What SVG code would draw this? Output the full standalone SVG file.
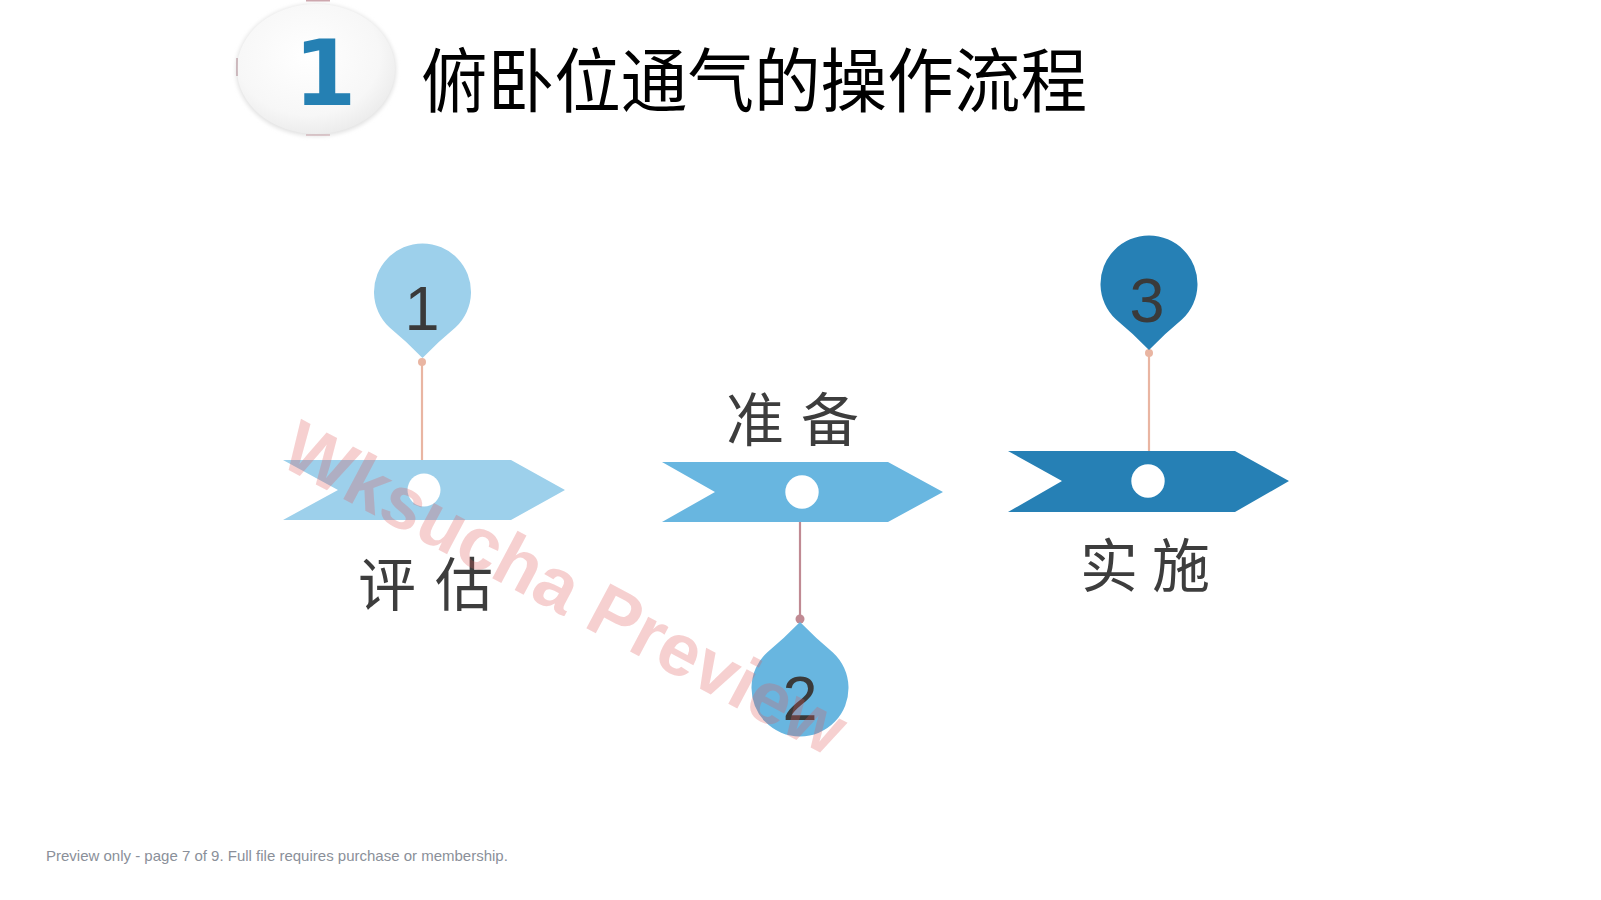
<svg xmlns="http://www.w3.org/2000/svg" width="1601" height="900" viewBox="0 0 1601 900">
  <style>
    .cjk { font-family: "Noto Sans CJK SC", "Noto Sans", sans-serif; }
    .label { font-family: "Noto Sans CJK SC", sans-serif; font-size: 58px; fill: #3d3d3d; }
    .num { font-family: "Liberation Sans", Arial, sans-serif; font-size: 63px; fill: #3a3a3a; text-anchor: middle; }
    .hole { fill: #ffffff; }
    .conn-a { stroke: #e9b5a2; stroke-width: 2.2; fill: none; }
    .conn-b { stroke: #c08a93; stroke-width: 2.2; fill: none; }
    .dot-a { fill: #e9b5a2; }
    .dot-b { fill: #c08a93; }
  </style>
  <defs>
    <path id="pin" d="M0,66 Q15.5,50 32.9,35.6 A48.5,48.5 0 1 0 -32.9,35.6 Q-15.5,50 0,66 Z"/>
    <radialGradient id="discGrad" cx="0.45" cy="0.4" r="0.65">
      <stop offset="0" stop-color="#ffffff"/>
      <stop offset="0.7" stop-color="#f7f7f7"/>
      <stop offset="1" stop-color="#e9e9e9"/>
    </radialGradient>
    <filter id="soft" x="-20%" y="-20%" width="140%" height="140%">
      <feGaussianBlur stdDeviation="2"/>
    </filter>
  </defs>

  <rect width="1601" height="900" fill="#ffffff"/>

  <!-- Title -->
  <g id="title">
    <ellipse cx="316" cy="70" rx="80" ry="66" fill="#e0e0e0" filter="url(#soft)"/>
    <ellipse cx="316" cy="69" rx="79" ry="65" fill="url(#discGrad)"/>
    <line x1="306" y1="0.8" x2="330" y2="0.8" stroke="#9a4a58" stroke-width="1.2" opacity="0.6"/>
    <line x1="306" y1="135" x2="330" y2="135" stroke="#9a4a58" stroke-width="1.2" opacity="0.4"/>
    <line x1="237" y1="58" x2="237" y2="76" stroke="#7a3a48" stroke-width="1.2" opacity="0.5"/>
    <text x="325" y="105" text-anchor="middle" font-family="'DejaVu Sans', Verdana, sans-serif" font-weight="bold" font-size="90" fill="#2580b3">1</text>
    <text x="421" y="107" class="cjk" font-size="70" fill="#000000" textLength="666" lengthAdjust="spacingAndGlyphs">俯卧位通气的操作流程</text>
  </g>

  <!-- Connectors -->
  <g id="connectors">
    <line class="conn-a" x1="422" y1="362" x2="422" y2="468"/>
    <circle class="dot-a" cx="422" cy="362" r="4"/>
    <circle class="dot-a" cx="422" cy="468" r="4.5"/>
    <line class="conn-b" x1="800" y1="510" x2="800" y2="619"/>
    <circle class="dot-b" cx="800" cy="510" r="4.5"/>
    <circle class="dot-b" cx="800" cy="619" r="4.5"/>
    <line class="conn-a" x1="1149" y1="353" x2="1149" y2="460"/>
    <circle class="dot-a" cx="1149" cy="353" r="4"/>
    <circle class="dot-a" cx="1149" cy="460" r="4.5"/>
  </g>

  <!-- Step 1 -->
  <g id="step1">
    <use href="#pin" transform="translate(422.5,292)" fill="#9dd0eb"/>
    <text class="num" x="422" y="330">1</text>
    <path d="M283,460 L511,460 L565,490 L511,520 L283,520 L338,490 Z" fill="#9dd0eb"/>
    <circle class="hole" cx="424" cy="490" r="16.5"/>
    <text class="label" x="358 435" y="606">评估</text>
  </g>

  <!-- Step 2 -->
  <g id="step2">
    <text class="label" x="726 801" y="441">准备</text>
    <path d="M662,462 L888,462 L943,492 L888,522 L662,522 L715,492 Z" fill="#68b6e0"/>
    <circle class="hole" cx="802" cy="492" r="16.7"/>
    <use href="#pin" transform="translate(800,688) scale(1,-1)" fill="#68b6e0"/>
    <text class="num" x="800" y="720">2</text>
  </g>

  <!-- Step 3 -->
  <g id="step3">
    <use href="#pin" transform="translate(1149,284)" fill="#2680b5"/>
    <text class="num" x="1147" y="322">3</text>
    <path d="M1008,451 L1235,451 L1289,481 L1235,512 L1008,512 L1062,481 Z" fill="#2680b5"/>
    <circle class="hole" cx="1148" cy="481" r="16.7"/>
    <text class="label" x="1080 1152" y="587">实施</text>
  </g>

  <!-- Watermark -->
  <g id="watermark" opacity="0.28">
    <text x="0" y="0" transform="translate(565,588) rotate(28)" text-anchor="middle" dominant-baseline="central" font-family="'Liberation Sans', Arial, sans-serif" font-weight="bold" font-size="74" fill="#e05a5a">Wksucha Preview</text>
  </g>

  <!-- Footer -->
  <g id="footer">
    <text x="46" y="861" font-family="'Liberation Sans', Arial, sans-serif" font-size="15" fill="#8a8f99">Preview only - page 7 of 9. Full file requires purchase or membership.</text>
  </g>
</svg>
